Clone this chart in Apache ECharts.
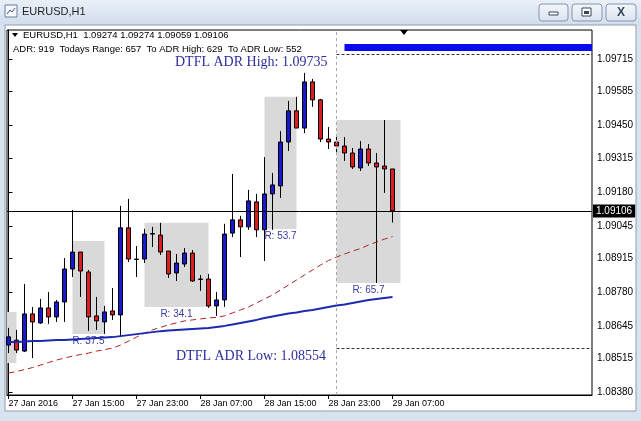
<!DOCTYPE html>
<html><head><meta charset="utf-8">
<script src="https://cdn.jsdelivr.net/npm/echarts@6/dist/echarts.min.js"></script>
<style>html,body{margin:0;padding:0;background:#d8e3f0;}#c{width:641px;height:421px;}</style>
</head><body><div id="c"></div>
<script>
// ---- data (EURUSD H1, bar 0 = 27 Jan 07:00) ----
const opens  = [1.08568,1.08588,1.08544,1.08693,1.08657,1.08717,1.08681,1.08741,1.08873,1.08941,1.08861,1.08685,1.08661,1.08705,1.08689,1.09038,1.08913,1.08913,1.09013,1.09009,1.08945,1.08857,1.08893,1.08937,1.08833,1.08833,1.08725,1.08749,1.09017,1.09070,1.09042,1.09142,1.09030,1.09174,1.09206,1.09382,1.09507,1.09438,1.09623,1.09551,1.09394,1.09382,1.09366,1.09338,1.09278,1.09354,1.09298,1.09286,1.09274];
const closes = [1.08601,1.08548,1.08693,1.08661,1.08717,1.08681,1.08741,1.08873,1.08941,1.08865,1.08681,1.08665,1.08701,1.08689,1.09038,1.08913,1.08911,1.09013,1.09015,1.08941,1.08853,1.08897,1.08937,1.08825,1.08831,1.08725,1.08749,1.09013,1.09070,1.09042,1.09146,1.09030,1.09174,1.09210,1.09382,1.09507,1.09438,1.09623,1.09551,1.09394,1.09382,1.09366,1.09338,1.09282,1.09354,1.09298,1.09282,1.09274,1.09106];
const lows   = [1.08536,1.08536,1.08540,1.08516,1.08653,1.08653,1.08661,1.08661,1.08841,1.08761,1.08625,1.08629,1.08613,1.08669,1.08600,1.08901,1.08841,1.08897,1.08961,1.08929,1.08837,1.08825,1.08881,1.08821,1.08785,1.08717,1.08685,1.08721,1.09001,1.08921,1.09030,1.09001,1.08905,1.09030,1.09158,1.09346,1.09438,1.09418,1.09523,1.09382,1.09354,1.09338,1.09306,1.09274,1.09266,1.09286,1.08817,1.09178,1.09059];
const highs  = [1.08637,1.08629,1.08813,1.08721,1.08753,1.08781,1.08749,1.08917,1.09110,1.08941,1.08869,1.08761,1.08725,1.08797,1.09126,1.09154,1.08965,1.09034,1.09042,1.09058,1.08945,1.08933,1.08957,1.08949,1.08849,1.08853,1.08781,1.09054,1.09254,1.09086,1.09190,1.09174,1.09322,1.09258,1.09426,1.09547,1.09563,1.09659,1.09635,1.09555,1.09442,1.09406,1.09402,1.09358,1.09386,1.09374,1.09338,1.09470,1.09274];
const blueMA = [1.08580,1.08580,1.08582,1.08584,1.08584,1.08586,1.08588,1.08588,1.08590,1.08592,1.08594,1.08596,1.08598,1.08600,1.08604,1.08608,1.08612,1.08616,1.08620,1.08624,1.08627,1.08629,1.08631,1.08633,1.08635,1.08637,1.08641,1.08645,1.08651,1.08657,1.08663,1.08669,1.08677,1.08683,1.08689,1.08695,1.08699,1.08705,1.08709,1.08715,1.08721,1.08727,1.08731,1.08737,1.08743,1.08749,1.08753,1.08757,1.08761];
const redMA  = [1.08456,1.08462,1.08470,1.08478,1.08488,1.08498,1.08508,1.08516,1.08524,1.08530,1.08536,1.08544,1.08550,1.08556,1.08568,1.08584,1.08600,1.08616,1.08629,1.08639,1.08649,1.08657,1.08665,1.08669,1.08673,1.08677,1.08679,1.08685,1.08697,1.08709,1.08721,1.08737,1.08753,1.08769,1.08789,1.08809,1.08829,1.08849,1.08869,1.08889,1.08907,1.08921,1.08933,1.08945,1.08955,1.08969,1.08981,1.08993,1.09003];
const tickIdx    = [0, 8, 16, 24, 32, 40, 48];
const tickLabels = ['27 Jan 2016','27 Jan 15:00','27 Jan 23:00','28 Jan 07:00','28 Jan 15:00','28 Jan 23:00','29 Jan 07:00'];
const priceTicks = [1.08380,1.08515,1.08645,1.08780,1.08915,1.09045,1.09180,1.09315,1.09450,1.09585,1.09715];
// session boxes
const boxFrom  = [-0.1875, 8, 17, 32, 41];
const boxTo    = [1, 12, 25, 36, 49];
const boxTop   = [1.08701, 1.08985, 1.09058, 1.09563, 1.09470];
const boxBot   = [1.08496, 1.08613, 1.08721, 1.09033, 1.08817];
const boxLabel = ['', 'R: 37.5', 'R: 34.1', 'R: 53.7', 'R: 65.7'];
const bid = 1.09106, adrHigh = 1.09735, adrLow = 1.08554, todayBar = 41;
const adrBarTop = 1.09775, adrBarBot = 1.09747;

const xMin = -0.1875, xMax = 72.9375, yMin = 1.08368, yMax = 1.09831;
const FONT = 'Liberation Sans';

const candles = opens.map((o, i) => [i, o, closes[i], lows[i], highs[i]]);
const blueData = blueMA.map((v, i) => [i, v]);
const redData = redMA.map((v, i) => [i, v]);

const areas = boxFrom.map((f, k) => [
  {xAxis: f, yAxis: boxTop[k], label: {show: !!boxLabel[k], position: 'bottom', distance: 2, formatter: boxLabel[k], color: '#3a3aa0', fontSize: 10, fontFamily: FONT}},
  {xAxis: boxTo[k], yAxis: boxBot[k]}
]);

const chart = echarts.init(document.getElementById('c'), null, {renderer: 'canvas'});
const grad = () => new echarts.graphic.LinearGradient(0, 0, 0, 1, [{offset: 0, color: '#f4f7fb'}, {offset: 1, color: '#d9e3ef'}]);
const option = {
  backgroundColor: '#d8e3f0',
  animation: false,
  grid: {left: 7, right: 49, top: 30, bottom: 26, show: true, borderColor: '#000', borderWidth: 1, backgroundColor: '#fff'},
  xAxis: {
    type: 'value', min: xMin, max: xMax,
    axisLine: {show: true, lineStyle: {color: '#000'}},
    axisTick: {show: true, customValues: tickIdx, length: 4, lineStyle: {color: '#000'}},
    axisLabel: {customValues: tickIdx, align: 'left', margin: 4, color: '#000', fontSize: 9, fontFamily: FONT,
      formatter: v => tickLabels[tickIdx.indexOf(Math.round(v))] || ''},
    splitLine: {show: false}
  },
  yAxis: {
    type: 'value', position: 'right', min: yMin, max: yMax, scale: true,
    axisLine: {show: true, lineStyle: {color: '#000'}},
    axisTick: {show: true, customValues: priceTicks, length: 4, lineStyle: {color: '#000'}},
    axisLabel: {customValues: priceTicks, margin: 5, color: '#000', fontSize: 10, fontFamily: FONT, padding: [4, 0, 0, 0],
      formatter: v => v.toFixed(5)},
    splitLine: {show: false}
  },
  series: [
    {
      type: 'line', z: 1, data: blueData, symbol: 'none', lineStyle: {opacity: 0}, silent: true,
      markArea: {silent: true, itemStyle: {color: '#d9d9d9'}, data: areas}
    },
    {
      type: 'candlestick', z: 3, data: candles, encode: {x: 0, y: [1, 2, 3, 4]}, barWidth: 5,
      itemStyle: {color: '#1818cc', color0: '#d81e1e', borderColor: '#000', borderColor0: '#000', borderWidth: 1}
    },
    {type: 'line', z: 4, data: redData, symbol: 'none', lineStyle: {color: '#b22222', width: 1, type: [6, 4]}},
    {type: 'line', z: 4, data: blueData, symbol: 'none', lineStyle: {color: '#1c2ab0', width: 2}},
    {
      type: 'line', z: 5, data: blueData, symbol: 'none', lineStyle: {opacity: 0}, silent: true,
      markArea: {silent: true, itemStyle: {color: '#0a0af0'}, data: [[{xAxis: todayBar + 1, yAxis: adrBarTop}, {xAxis: xMax, yAxis: adrBarBot}]]},
      markLine: {
        silent: true, symbol: 'none', animation: false,
        data: [
          {xAxis: todayBar, lineStyle: {color: '#a8a8a8', type: [3, 3], width: 1}, label: {show: false}},
          [{xAxis: todayBar, yAxis: adrHigh, lineStyle: {color: '#333', type: [3, 2], width: 1}, label: {show: false}}, {xAxis: xMax, yAxis: adrHigh}],
          [{xAxis: todayBar, yAxis: adrLow, lineStyle: {color: '#333', type: [3, 2], width: 1}, label: {show: false}}, {xAxis: xMax, yAxis: adrLow}],
          [{xAxis: xMin, yAxis: bid, lineStyle: {color: '#000', type: 'solid', width: 1},
            label: {show: true, position: 'end', distance: 1, formatter: bid.toFixed(5), color: '#fff', backgroundColor: '#000', padding: [2, 3, 1, 3], fontSize: 10, fontFamily: FONT}},
           {xAxis: xMax, yAxis: bid}]
        ]
      }
    }
  ],
  graphic: {elements: [
    {type: 'rect', z: -10, shape: {x: 0, y: 0, width: 641, height: 25}, style: {fill: new echarts.graphic.LinearGradient(0, 0, 0, 1, [{offset: 0, color: '#e9f0f8'}, {offset: 1, color: '#d2deed'}])}},
    {type: 'rect', z: -10, shape: {x: 5, y: 25, width: 631, height: 386}, style: {fill: '#fff', stroke: '#8e9cb0', lineWidth: 1}},
    {type: 'rect', z: 10, shape: {x: 5, y: 5, width: 12, height: 12}, style: {fill: '#f6f8fb', stroke: '#6b7e99', lineWidth: 1}},
    {type: 'polyline', z: 11, shape: {points: [[7, 14], [10, 10], [12, 12], [15, 8]]}, style: {stroke: '#3a5a9a', lineWidth: 1, fill: null}},
    {type: 'text', z: 10, style: {x: 22, y: 12, text: 'EURUSD,H1', fill: '#1e1e1e', font: '11px "Liberation Sans"', verticalAlign: 'middle'}},
    {type: 'rect', z: 10, shape: {x: 539, y: 4, width: 29, height: 17, r: 3}, style: {fill: grad(), stroke: '#8395ad'}},
    {type: 'rect', z: 10, shape: {x: 572, y: 4, width: 30, height: 17, r: 3}, style: {fill: grad(), stroke: '#8395ad'}},
    {type: 'rect', z: 10, shape: {x: 606, y: 4, width: 30, height: 17, r: 3}, style: {fill: grad(), stroke: '#8395ad'}},
    {type: 'rect', z: 11, shape: {x: 549, y: 12, width: 9, height: 3}, style: {fill: '#fff', stroke: '#39465a'}},
    {type: 'rect', z: 11, shape: {x: 582, y: 8, width: 9, height: 8}, style: {fill: '#fff', stroke: '#39465a'}},
    {type: 'rect', z: 12, shape: {x: 584, y: 11, width: 5, height: 3}, style: {fill: '#39465a'}},
    {type: 'text', z: 11, style: {x: 621, y: 13, text: 'X', fill: '#39465a', font: 'bold 12px "Liberation Sans"', align: 'center', verticalAlign: 'middle'}},
    {type: 'polygon', z: 10, shape: {points: [[12, 33], [18, 33], [15, 37]]}, style: {fill: '#000'}},
    {type: 'text', z: 10, style: {x: 23, y: 35, text: 'EURUSD,H1  1.09274 1.09274 1.09059 1.09106', fill: '#000', font: '9.5px "Liberation Sans"', verticalAlign: 'middle'}},
    {type: 'text', z: 10, style: {x: 13, y: 49, text: 'ADR: 919  Todays Range: 657  To ADR High: 629  To ADR Low: 552', fill: '#000', font: '9.5px "Liberation Sans"', verticalAlign: 'middle'}},
    {type: 'text', z: 10, style: {x: 175, y: 62, text: 'DTFL ADR High: 1.09735', fill: '#2e2e9e', font: '14px "Liberation Serif"', verticalAlign: 'middle'}},
    {type: 'text', z: 10, style: {x: 176, y: 356, text: 'DTFL ADR Low: 1.08554', fill: '#2e2e9e', font: '14px "Liberation Serif"', verticalAlign: 'middle'}},
    {type: 'polygon', z: 10, shape: {points: [[400, 30], [408, 30], [404, 35]]}, style: {fill: '#000'}}
  ]}
};
chart.setOption(option);
</script>
</body></html>
